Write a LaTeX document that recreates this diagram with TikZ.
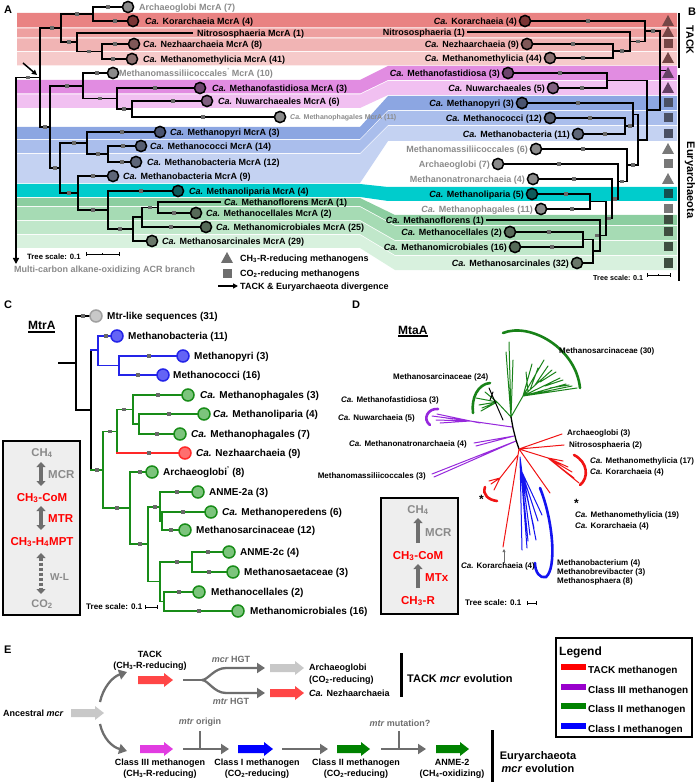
\documentclass[tikz,border=0pt]{standalone}
\usepackage{fontspec}
\setmainfont{Liberation Sans}
\usetikzlibrary{arrows.meta}
\definecolor{bK}{RGB}{233,130,130}
\definecolor{bN}{RGB}{238,160,160}
\definecolor{bZ}{RGB}{241,180,180}
\definecolor{bM}{RGB}{246,202,202}
\definecolor{bF}{RGB}{225,140,225}
\definecolor{bW}{RGB}{241,192,241}
\definecolor{bP}{RGB}{140,166,226}
\definecolor{bC}{RGB}{170,190,236}
\definecolor{bB}{RGB}{196,210,242}
\definecolor{bT}{RGB}{0,204,204}
\definecolor{bGa}{RGB}{140,206,160}
\definecolor{bGb}{RGB}{166,219,180}
\definecolor{bGc}{RGB}{192,231,202}
\definecolor{bGd}{RGB}{216,241,222}
\definecolor{lg}{RGB}{138,138,138}
\definecolor{sqc}{RGB}{105,105,105}
\definecolor{cGr}{RGB}{138,138,138}
\definecolor{cK}{RGB}{122,52,52}
\definecolor{cZ}{RGB}{128,88,88}
\definecolor{cM}{RGB}{138,110,110}
\definecolor{cF}{RGB}{110,68,110}
\definecolor{cW}{RGB}{128,96,128}
\definecolor{cP}{RGB}{74,84,112}
\definecolor{cC}{RGB}{86,94,114}
\definecolor{cB}{RGB}{94,102,120}
\definecolor{cT}{RGB}{14,90,90}
\definecolor{cG}{RGB}{86,106,88}
\definecolor{cS}{RGB}{106,120,106}
\definecolor{iK}{RGB}{118,70,70}
\definecolor{iF}{RGB}{100,64,100}
\definecolor{iP}{RGB}{74,80,100}
\definecolor{iG}{RGB}{120,120,120}
\definecolor{iT}{RGB}{20,80,80}
\definecolor{iE}{RGB}{62,78,64}
\definecolor{tblue}{RGB}{36,36,232}
\definecolor{tgreen}{RGB}{24,140,24}
\definecolor{tred}{RGB}{255,40,40}
\definecolor{fblue}{RGB}{100,100,245}
\definecolor{fgreen}{RGB}{124,196,124}
\definecolor{fred}{RGB}{255,110,110}
\definecolor{dgreen}{RGB}{24,130,24}
\definecolor{dpurp}{RGB}{150,40,220}
\definecolor{dred}{RGB}{240,20,20}
\definecolor{dblue}{RGB}{20,20,240}
\definecolor{boxg}{RGB}{238,238,238}
\definecolor{arrg}{RGB}{110,110,110}
\definecolor{lgray}{RGB}{200,200,200}
\definecolor{ered}{RGB}{255,70,70}
\definecolor{emag}{RGB}{225,60,225}
\definecolor{eblue}{RGB}{0,0,255}
\definecolor{egreen}{RGB}{0,130,0}
\definecolor{legpurp}{RGB}{153,0,204}
\newcommand{\Ca}{\textit{Ca.}}
\newcommand{\sbs}[1]{\textsubscript{#1}}
\newcommand{\bsq}[2]{\fill[sqc] ({#1-1.9},{#2-1.9}) rectangle ({#1+1.9},{#2+1.9});}
\newcommand{\tip}[3]{\draw[circ, fill=#3] (#1,#2) circle (5.6pt);}
\newcommand{\band}[7]{\fill[#7] (17,#1)--(#5,#1)--(#6,#3)--(677,#3)--(677,#4)--(#6,#4)--(#5,#2)--(17,#2)--cycle;}
\newcommand{\itri}[3]{\fill[#3] ({#1-6},{#2+5})--(#1,{#2-6})--({#1+6},{#2+5})--cycle;}
\newcommand{\isq}[3]{\fill[#3] ({#1-4.5},{#2-4.5}) rectangle ({#1+4.5},{#2+4.5});}
\newcommand{\blk}[4]{\fill[#4] (#1,{#3-4})--({#2-9},{#3-4})--({#2-9},{#3-7})--(#2,#3)--({#2-9},{#3+7})--({#2-9},{#3+4})--(#1,{#3+4})--cycle;}
\begin{document}
\begin{tikzpicture}[x=1pt,y=-1pt,
  tr/.style={line width=1.7pt, line cap=rect},
  circ/.style={line width=1.5pt, draw=black},
  lab/.style={anchor=base west, inner sep=0pt, yshift=-3.1pt, font=\fontsize{9}{10}\selectfont\bfseries},
  labr/.style={lab, anchor=base east},
  clab/.style={anchor=base west, inner sep=0pt, yshift=-3.5pt, font=\fontsize{10}{12}\selectfont\bfseries},
  dlab/.style={anchor=base west, inner sep=0pt, yshift=-2.8pt, font=\fontsize{8}{9}\selectfont\bfseries},
  dlabr/.style={dlab, anchor=base east},
  star/.style={anchor=base west, inner sep=0pt, font=\fontsize{12}{12}\selectfont\bfseries},
  elab/.style={anchor=base, inner sep=0pt, yshift=-3.1pt, font=\fontsize{9}{10}\selectfont\bfseries},
  plab/.style={anchor=base west, inner sep=0pt, yshift=-3.9pt, font=\fontsize{11}{12}\selectfont\bfseries},
  blab/.style={anchor=base, inner sep=0pt, yshift=-4pt, font=\fontsize{11.5}{13}\selectfont\bfseries},
  blabl/.style={blab, anchor=base west},
  ctr/.style={line width=1.7pt, line cap=rect},
  gcon/.style={line width=2.3pt, draw=arrg, -{Triangle[length=8pt,width=10pt]}},
  gline/.style={line width=2.3pt, draw=arrg},
  dbar/.style={line width=3.2pt, draw=arrg, {Triangle[length=5pt,width=9pt]}-{Triangle[length=5pt,width=9pt]}},
  ubar/.style={line width=3.2pt, draw=arrg, -{Triangle[length=5pt,width=9pt]}},
  dl/.style={line width=1pt}
]
\useasboundingbox (0,0) rectangle (700,783);

%================ PANEL A / B ================
\node[plab] (pA) at (4,10) {A};
\node[plab] (pB) at (688,12) {B};
\band{13}{27.5}{13}{27.5}{360}{388}{bK}
\band{28.5}{37.5}{28.5}{37.5}{360}{388}{bN}
\band{38.5}{51}{38.5}{51}{360}{388}{bZ}
\band{52}{65.5}{52}{65.5}{360}{388}{bM}
\band{80}{93.5}{66}{80}{360}{388}{bF}
\band{94.5}{108}{81}{95}{360}{388}{bW}
\band{127}{139}{96}{110}{360}{388}{bP}
\band{140}{153}{111}{125}{360}{388}{bC}
\band{154}{183}{126}{141}{360}{388}{bB}
\band{184}{197}{187}{201}{360}{388}{bT}
\band{198}{206}{215}{225}{360}{395}{bGa}
\band{207}{220}{226}{240}{360}{395}{bGb}
\band{221}{234}{241}{255}{360}{395}{bGc}
\band{235}{248}{256}{270}{360}{395}{bGd}

% left tree
\draw[tr] (128,7) -| (93,21) -- (133,21);
\draw[tr] (134,44) -| (102,59) -- (132,59);
\draw[tr] (192,33) -| (77,51.5) -- (102,51.5);
\draw[tr] (93,14) -| (61,42) -- (77,42);
\draw[tr] (61,28) -| (40,127) -- (50,127);
\draw[tr] (16,77.5) -- (40,77.5);
\draw[tr] (207,101) -| (132,117) -- (280,117);
\draw[tr] (200,88) -| (117,109) -- (132,109);
\draw[tr] (113,73) -| (83,98.5) -- (117,98.5);
\draw[tr] (141,146) -| (108,162) -- (136,162);
\draw[tr] (160,132) -| (87,154) -- (108,154);
\draw[tr] (220,202) -| (158,213) -- (196,213);
\draw[tr] (158,207.5) -| (142,227) -- (206,227);
\draw[tr] (142,217) -| (133,241) -- (152,241);
\draw[tr] (178,191) -| (108,229) -- (133,229);
\draw[tr] (113,176) -| (78,210) -- (108,210);
\draw[tr] (87,143) -| (60,193) -- (78,193);
\draw[tr] (83,86) -| (50,168) -- (60,168);
\draw[line width=1.8pt, -{Triangle[length=6pt,width=6pt]}] (16,77.5) -- (16,264);
\draw[line width=1.5pt, -{Triangle[length=5pt,width=5pt]}] (23,63) -- (37,75);
\bsq{108}{7}\bsq{115}{21}\bsq{77}{14}\bsq{115}{44}\bsq{113}{59}\bsq{89}{51.5}\bsq{69}{42}
\bsq{52}{28}\bsq{28}{77.5}\bsq{45}{127}\bsq{97}{73}\bsq{100}{98.5}\bsq{155}{88}\bsq{124}{109}
\bsq{173}{101}\bsq{203}{117}\bsq{67}{86}\bsq{122}{132}\bsq{74}{143}\bsq{98}{154}\bsq{123}{146}
\bsq{122}{162}\bsq{55}{168}\bsq{69}{193}\bsq{93}{176}\bsq{93}{210}\bsq{141}{191}\bsq{120}{229}
\bsq{171}{227}\bsq{174}{213}\bsq{150}{207.5}
\tip{128}{7}{cGr}\tip{133}{21}{cK}\tip{134}{44}{cZ}\tip{132}{59}{cM}\tip{113}{73}{cGr}
\tip{200}{88}{cF}\tip{207}{101}{cW}\tip{280}{117}{cGr}\tip{160}{132}{cP}\tip{141}{146}{cC}
\tip{136}{162}{cB}\tip{113}{176}{cB}\tip{178}{191}{cT}\tip{196}{213}{cG}\tip{206}{227}{cG}\tip{152}{241}{cS}
\node[lab, text=lg] (l1) at (139,7) {Archaeoglobi McrA (7)};
\node[lab] (l2) at (145,21) {\Ca{} Korarchaeia McrA (4)};
\node[lab] (l3) at (197,33) {Nitrososphaeria McrA (1)};
\node[lab] (l4) at (143,44) {\Ca{} Nezhaarchaeia McrA (8)};
\node[lab] (l5) at (143,59) {\Ca{} Methanomethylicia McrA (41)};
\node[lab, text=lg] (l6) at (119,73) {Methanomassiliicoccales\textsuperscript{'} McrA (10)};
\node[lab] (l7) at (212,88) {\Ca{} Methanofastidiosa McrA (3)};
\node[lab] (l8) at (218,101) {\Ca{} Nuwarchaeales McrA (6)};
\node[lab, text=lg, font=\fontsize{7}{8}\selectfont\bfseries, yshift=0.6pt] (l9) at (290,117) {\Ca{} Methanophagales McrA (11)};
\node[lab] (l10) at (170,132) {\Ca{} Methanopyri McrA (3)};
\node[lab] (l11) at (150,146) {\Ca{} Methanococci McrA (14)};
\node[lab] (l12) at (147,162) {\Ca{} Methanobacteria McrA (12)};
\node[lab] (l13) at (123,176) {\Ca{} Methanobacteria McrA (9)};
\node[lab] (l14) at (189,191) {\Ca{} Methanoliparia McrA (4)};
\node[lab] (l15) at (224,202) {\Ca{} Methanoflorens McrA (1)};
\node[lab] (l16) at (206,213) {\Ca{} Methanocellales McrA (2)};
\node[lab] (l17) at (216,227) {\Ca{} Methanomicrobiales McrA (25)};
\node[lab] (l18) at (162,241) {\Ca{} Methanosarcinales McrA (29)};

% right tree
\draw[tr] (525,21) -| (645,41.5) -- (630,41.5);
\draw[tr] (468,32) -| (630,51) -- (613,51);
\draw[tr] (527,44) -| (613,58) -- (550,58);
\draw[tr] (645,31) -| (660,110) -- (647,110);
\draw[tr] (660,70.5) -- (666,70.5);
\draw[tr] (508,73) -| (607,88) -- (553,88);
\draw[tr] (607,80.5) -| (647,140) -- (638,140);
\draw[tr] (550,118) -| (625,134) -- (578,134);
\draw[tr] (522,103) -| (633,126) -- (625,126);
\draw[tr] (633,114.5) -| (638,165) -- (627,165);
\draw[tr] (536,149) -| (627,181.5) -- (618,181.5);
\draw[tr] (498,164) -| (618,199) -- (612,199);
\draw[tr] (533,179) -| (612,218.5) -- (606,218.5);
\draw[tr] (590,201.5) -| (606,235.5) -- (600,235.5);
\draw[tr] (532,194) -| (590,209) -- (541,209);
\draw[tr] (487,220) -| (600,251) -- (593,251);
\draw[tr] (583,239.5) -| (593,263) -- (577,263);
\draw[tr] (510,232) -| (583,247) -- (515,247);
\bsq{588}{21}\bsq{573}{44}\bsq{583}{58}\bsq{622}{51}\bsq{638}{41.5}\bsq{653}{31}
\bsq{560}{73}\bsq{582}{88}\bsq{578}{103}\bsq{590}{118}\bsq{605}{134}\bsq{630}{126}
\bsq{583}{149}\bsq{559}{164}\bsq{574}{179}\bsq{566}{194}\bsq{572}{209}\bsq{633}{165}
\bsq{622}{181.5}\bsq{609}{218.5}\bsq{549}{232}\bsq{552}{247}\bsq{615}{199}\bsq{597}{235.5}
\tip{525}{21}{cK}\tip{527}{44}{cZ}\tip{550}{58}{cM}\tip{508}{73}{cF}\tip{553}{88}{cW}
\tip{522}{103}{cP}\tip{550}{118}{cC}\tip{578}{134}{cB}\tip{536}{149}{cGr}\tip{498}{164}{cGr}
\tip{533}{179}{cGr}\tip{532}{194}{cT}\tip{541}{209}{cGr}\tip{510}{232}{cG}\tip{515}{247}{cG}\tip{577}{263}{cS}
\node[labr] (r1) at (517,21) {\Ca{} Korarchaeia (4)};
\node[labr] (r2) at (465,32) {Nitrososphaeria (1)};
\node[labr] (r3) at (519,44) {\Ca{} Nezhaarchaeia (9)};
\node[labr] (r4) at (542,58) {\Ca{} Methanomethylicia (44)};
\node[labr] (r5) at (500,73) {\Ca{} Methanofastidiosa (3)};
\node[labr] (r6) at (545,88) {\Ca{} Nuwarchaeales (5)};
\node[labr] (r7) at (514,103) {\Ca{} Methanopyri (3)};
\node[labr] (r8) at (542,118) {\Ca{} Methanococci (12)};
\node[labr] (r9) at (570,134) {\Ca{} Methanobacteria (11)};
\node[labr, text=lg] (r10) at (528,149) {Methanomassiliicoccales (6)};
\node[labr, text=lg] (r11) at (490,164) {Archaeoglobi (7)};
\node[labr, text=lg] (r12) at (525,179) {Methanonatronarchaeia (4)};
\node[labr] (r13) at (524,194) {\Ca{} Methanoliparia (5)};
\node[labr, text=lg] (r14) at (533,209) {\Ca{} Methanophagales (11)};
\node[labr] (r15) at (484,220) {\Ca{} Methanoflorens (1)};
\node[labr] (r16) at (502,232) {\Ca{} Methanocellales (2)};
\node[labr] (r17) at (507,247) {\Ca{} Methanomicrobiales (16)};
\node[labr] (r18) at (569,263) {\Ca{} Methanosarcinales (32)};
\itri{668}{21}{iK}\itri{668}{32}{iK}\isq{668}{44}{iK}\itri{668}{58}{iK}
\itri{668}{73}{iF}\itri{668}{88}{iF}\isq{668}{103}{iP}\isq{668}{118}{iP}\isq{668}{134}{iP}
\itri{668}{149}{iG}\isq{668}{164}{iG}\itri{668}{179}{iG}\isq{668}{194}{iT}\isq{668}{209}{iG}
\isq{668}{220}{iE}\isq{668}{232}{iE}\isq{668}{247}{iE}\isq{668}{263}{iE}
\draw[line width=2pt] (679,13) -- (679,68);
\draw[line width=2pt] (679,75) -- (679,281);
\node[rotate=-90, inner sep=0pt, font=\fontsize{10.5}{12}\selectfont\bfseries] (tack) at (690,40) {TACK};
\node[rotate=-90, inner sep=0pt, font=\fontsize{11}{12}\selectfont\bfseries] (eury) at (690,180) {Euryarchaeota};
\node[lab, font=\fontsize{7.7}{9}\selectfont\bfseries, yshift=-2.7pt] (ts1) at (27,254) {Tree scale: 0.1};
\draw[line width=0.6pt] (86,254) -- (119,254) (86,252) -- (86,256) (119,252) -- (119,256) (102.5,253) -- (102.5,255);
\node[lab, font=\fontsize{7.2}{9}\selectfont\bfseries, yshift=-2.6pt] (ts2) at (593,275) {Tree scale: 0.1};
\draw[line width=0.6pt] (647,275) -- (670,275) (647,273) -- (647,277) (670,273) -- (670,277) (658.5,274) -- (658.5,276);
\node[lab, text=lg] (acr) at (14,269) {Multi-carbon alkane-oxidizing ACR branch};
\itri{227}{258}{arrg}
\isq{227}{273}{arrg}
\node[lab] (lg1) at (240,258) {CH\sbs{3}-R-reducing methanogens};
\node[lab] (lg2) at (240,273) {CO\sbs{2}-reducing methanogens};
\coordinate (la1) at (218,286);
\coordinate (la2) at (238,286);
\draw[line width=1.5pt, -{Triangle[length=5pt,width=5pt]}] (la1) -- (la2);
\node[lab] (lg3) at (240,286) {TACK \& Euryarchaeota divergence};

%================ PANEL C ================
\node[plab] (pC) at (4,305) {C};
\node[clab, font=\fontsize{12}{14}\selectfont\bfseries, yshift=-4.2pt] (mtra) at (28,322) {MtrA};
\draw[line width=1.2pt] (28,332) -- (55,332);
\draw[ctr] (59,363) -- (76,363);
\draw[ctr] (96,316) -| (76,410) -- (91,410);
\draw[ctr] (91,350) -- (91,470);
\draw[ctr, tblue] (91,350) -- (98,350);
\draw[ctr, tblue] (117,336) -| (98,365.5) -- (119,365.5);
\draw[ctr, tblue] (183,356) -| (119,375) -- (163,375);
\draw[ctr, tgreen] (91,470) -- (103,470);
\draw[ctr, tgreen] (117,431.5) -| (103,508) -- (130,508);
\draw[ctr, tgreen] (133,409.5) -| (117,453);
\draw[ctr, tred] (117,453) -- (185,453);
\draw[ctr, tgreen] (188,395) -| (133,424) -- (139,424);
\draw[ctr, tgreen] (204,414) -| (139,434) -- (180,434);
\draw[ctr, tgreen] (152,472) -| (130,544) -- (148,544);
\draw[ctr, tgreen] (160,507) -| (148,581.5) -- (160,581.5);
\draw[ctr, tgreen] (198,492) -| (160,521) -- (162,521);
\draw[ctr, tgreen] (211,512) -| (162,530) -- (185,530);
\draw[ctr, tgreen] (192,562) -| (160,601.5) -- (164,601.5);
\draw[ctr, tgreen] (229,552) -| (192,572) -- (233,572);
\draw[ctr, tgreen] (199,592) -| (164,611) -- (238,611);
\bsq{83}{316}\bsq{106}{336}\bsq{149}{356}\bsq{138}{375}\bsq{97}{470}\bsq{110}{431.5}\bsq{124}{409.5}
\bsq{158}{395}\bsq{169}{414}\bsq{157}{434}\bsq{149}{453}\bsq{117}{508}\bsq{140}{472}\bsq{140}{544}
\bsq{155}{507}\bsq{177}{492}\bsq{183}{512}\bsq{171}{530}\bsq{177}{562}\bsq{208}{552}\bsq{209}{572}
\bsq{179}{592}\bsq{199}{611}
\draw[line width=1.5pt, draw=lgray!80!black, fill=lgray] (96,316) circle (6pt);
\foreach \px/\py in {117/336,183/356,163/375}
  \draw[line width=1.5pt, draw=tblue, fill=fblue] (\px,\py) circle (6pt);
\foreach \px/\py in {188/395,204/414,180/434,152/472,198/492,211/512,185/530,229/552,233/572,199/592,238/611}
  \draw[line width=1.5pt, draw=tgreen, fill=fgreen] (\px,\py) circle (6pt);
\draw[line width=1.5pt, draw=tred, fill=fred] (185,453) circle (6pt);
\node[clab] (c1) at (107,316) {Mtr-like sequences (31)};
\node[clab] (c2) at (128,336) {Methanobacteria (11)};
\node[clab] (c3) at (194,356) {Methanopyri (3)};
\node[clab] (c4) at (173,375) {Methanococci (16)};
\node[clab] (c5) at (200,395) {\Ca{} Methanophagales (3)};
\node[clab] (c6) at (213,414) {\Ca{} Methanoliparia (4)};
\node[clab] (c7) at (191,434) {\Ca{} Methanophagales (7)};
\node[clab] (c8) at (196,453) {\Ca{} Nezhaarchaeia (9)};
\node[clab] (c9) at (163,472) {Archaeoglobi\textsuperscript{'} (8)};
\node[clab] (c10) at (209,492) {ANME-2a (3)};
\node[clab] (c11) at (222,512) {\Ca{} Methanoperedens (6)};
\node[clab] (c12) at (196,530) {Methanosarcinaceae (12)};
\node[clab] (c13) at (240,552) {ANME-2c (4)};
\node[clab] (c14) at (244,572) {Methanosaetaceae (3)};
\node[clab] (c15) at (211,592) {Methanocellales (2)};
\node[clab] (c16) at (250,611) {Methanomicrobiales (16)};
\node[dlab, font=\fontsize{8.1}{9}\selectfont\bfseries] (ts3) at (86,607) {Tree scale: 0.1};
\draw[line width=0.6pt] (145,607) -- (157,607) (145,605) -- (145,609) (157,605) -- (157,609);
\draw[line width=1.5pt, fill=boxg] (3,441) rectangle (80,615);
\node[blab, text=lg, font=\fontsize{11.3}{13}\selectfont\bfseries] (cb1) at (42,452) {CH\sbs{4}};
\draw[dbar] (41,462) -- (41,486);
\node[blabl, text=lg] (cb2) at (48,474) {MCR};
\node[blab, text=red] (cb3) at (42,497) {CH\sbs{3}-CoM};
\draw[dbar] (41,506) -- (41,530);
\node[blabl, text=red] (cb4) at (48,518) {MTR};
\node[blab, text=red] (cb5) at (42,541) {CH\sbs{3}-H\sbs{4}MPT};
\draw[dbar, dash pattern=on 3pt off 2pt] (41,553) -- (41,594);
\node[blabl, text=lg, font=\fontsize{10}{12}\selectfont\bfseries, yshift=-3.5pt] (cb6) at (50,573) {W-L};
\node[blab, text=lg, font=\fontsize{11}{13}\selectfont\bfseries] (cb7) at (42,603) {CO\sbs{2}};

%================ PANEL D ================
\node[plab] (pD) at (352,305) {D};
\node[clab, font=\fontsize{12}{14}\selectfont\bfseries, yshift=-4.2pt] (mtaa) at (398,327) {MtaA};
\draw[line width=1.2pt] (398,336) -- (428,336);
\begin{scope}[line cap=round]
\draw[dl, dgreen] (511,417)--(509,342) (511,417)--(506,352) (511,417)--(513,360) (511,417)--(507,365)
  (511,417)--(523,396) (523,396)--(544,360) (523,396)--(532,364) (523,396)--(552,370)
  (523,396)--(560,378) (523,396)--(566,384) (523,396)--(572,386) (523,396)--(577,388)
  (535,385)--(548,366) (530,390)--(538,368) (540,382)--(556,372) (545,386)--(563,380)
  (550,388)--(569,385) (528,392)--(526,372)
  (511,417)--(497,402) (497,402)--(485,392) (497,402)--(479,405) (497,402)--(481,411) (497,402)--(476,398)
  (492,404)--(482,408);
\draw[dl, black] (489,388)--(503,420) (493,392)--(490,400);
\draw[line width=2.6pt, dgreen] (503,333) .. controls (530,322) and (576,348) .. (580,388);
\draw[line width=2.6pt, dgreen] (490,383) .. controls (478,384) and (471,398) .. (473,413);
\draw[dl, dpurp] (512,427)--(470,421) (470,421)--(432,416) (470,421)--(436,420) (470,421)--(440,423)
  (470,421)--(446,418) (480,423)--(437,414)
  (514,436)--(474,443) (514,436)--(476,446) (516,441)--(432,474) (516,441)--(434,477);
\draw[line width=2.6pt, dpurp] (438,409) .. controls (428,408) and (422,419) .. (430,425);
\draw[line width=1.3pt, black] (511,417)--(513,428)--(516,440)--(519,449);
\draw[dl, dred] (519,449)--(562,434) (519,449)--(564,445) (519,449)--(548,458) (548,458)--(563,461)
  (548,458)--(568,467) (548,458)--(572,472) (548,458)--(579,483) (548,458)--(574,478)
  (519,449)--(550,493) (519,449)--(503,547) (518,455)--(500,478) (500,478)--(491,484)
  (500,478)--(494,490) (500,478)--(489,481);
\draw[line width=2.6pt, dred] (574,455) .. controls (588,462) and (589,478) .. (580,485);
\draw[line width=2.6pt, dred] (485,487) .. controls (482,495) and (489,500) .. (497,501);
\draw[dl, dblue] (520,457)--(522,550) (520,457)--(527,548) (520,457)--(530,535) (521,470)--(534,528)
  (521,470)--(538,521) (521,470)--(542,515) (521,470)--(528,541) (524,480)--(536,540);
\draw[line width=2.6pt, dblue] (540,488) .. controls (553,520) and (557,568) .. (546,577) .. controls (540,579) and (535,572) .. (535,563);
\end{scope}
\coordinate (ka1) at (504,563);
\coordinate (ka2) at (504,549);
\draw[line width=0.8pt, draw=arrg, -{Triangle[length=3pt,width=3pt]}] (ka1) -- (ka2);
\node[dlab] (d1) at (559,351) {Methanosarcinaceae (30)};
\node[dlab] (d2) at (393,377) {Methanosarcinaceae (24)};
\node[dlabr] (d3) at (439,400) {\Ca{} Methanofastidiosa (3)};
\node[dlabr] (d4) at (415,418) {\Ca{} Nuwarchaeia (5)};
\node[dlabr] (d5) at (467,444) {\Ca{} Methanonatronarchaeia (4)};
\node[dlabr] (d6) at (426,476) {Methanomassiliicoccales (3)};
\node[dlab] (d7) at (567,433) {Archaeoglobi (3)};
\node[dlab] (d8) at (569,445) {Nitrososphaeria (2)};
\node[dlab] (d9) at (590,461) {\Ca{} Methanomethylicia (17)};
\node[dlab] (d10) at (590,472) {\Ca{} Korarchaeia (4)};
\node[star] (d11) at (574,507) {*};
\node[dlab] (d12) at (575,515) {\Ca{} Methanomethylicia (19)};
\node[dlab] (d13) at (575,526) {\Ca{} Korarchaeia (4)};
\node[star] (d14) at (479,503) {*};
\node[dlab] (d15) at (461,566) {\Ca{} Korarchaeia (4)};
\node[dlab] (d16) at (557,563) {Methanobacterium (4)};
\node[dlab] (d17) at (557,572) {Methanobrevibacter (3)};
\node[dlab] (d18) at (557,581) {Methanosphaera (8)};
\node[dlab, font=\fontsize{8.1}{9}\selectfont\bfseries] (ts4) at (465,603) {Tree scale: 0.1};
\draw[line width=0.6pt] (527,603) -- (536,603) (527,601) -- (527,605) (536,601) -- (536,605);
\draw[line width=1.5pt, fill=boxg] (381,498) rectangle (458,614);
\node[blab, text=lg, font=\fontsize{11.3}{13}\selectfont\bfseries] (db1) at (418,509) {CH\sbs{4}};
\draw[ubar] (418,543) -- (418,518);
\node[blabl, text=lg] (db2) at (425,532) {MCR};
\node[blab, text=red] (db3) at (418,555) {CH\sbs{3}-CoM};
\draw[ubar] (418,588) -- (418,564);
\node[blabl, text=red] (db4) at (425,577) {MTx};
\node[blab, text=red] (db5) at (418,600) {CH\sbs{3}-R};

%================ PANEL E ================
\node[plab] (pE) at (4,650) {E};
\node[lab] (anc) at (3,713) {Ancestral \textit{mcr}};
\blk{71}{104}{713}{lgray}
\draw[gcon] (100,702) .. controls (103,688) and (112,677) .. (127,672);
\draw[gcon] (100,724) .. controls (103,738) and (112,747) .. (127,751);
\node[elab] (tack1) at (150,654) {TACK};
\node[elab] (tack2) at (150,665) {(CH\sbs{3}-R-reducing)};
\blk{138}{173}{680}{ered}
\coordinate (fk0) at (183,680);
\coordinate (fk1) at (202,680);
\draw[gline] (fk0) -- (fk1);
\draw[gcon] (fk1) .. controls (208,680) and (214,668) .. (226,668) -- (265,668);
\draw[gcon] (fk1) .. controls (208,680) and (214,693) .. (226,693) -- (265,693);
\node[elab, text=arrg] (hgt1) at (231,659) {\textit{mcr} HGT};
\node[elab, text=arrg] (hgt2) at (231,701) {\textit{mtr} HGT};
\blk{270}{304}{668}{lgray}
\blk{270}{304}{693}{ered}
\node[lab] (ar1) at (309,667) {Archaeoglobi};
\node[lab] (ar2) at (309,679) {(CO\sbs{2}-reducing)};
\node[lab] (nz) at (309,693) {\Ca{} Nezhaarchaeia};
\draw[line width=3pt] (401,653) -- (401,697);
\node[lab, font=\fontsize{11}{13}\selectfont\bfseries, yshift=-3.8pt] (te) at (407,676) {TACK \textit{mcr} evolution};
\blk{140}{173}{749}{emag}
\coordinate (o1) at (183,749);
\coordinate (o2) at (229,749);
\coordinate (o3) at (200,731);
\coordinate (o4) at (200,749);
\draw[gcon] (o1) -- (o2);
\draw[gline] (o3) -- (o4);
\node[elab, text=arrg] (mo) at (200,721) {\textit{mtr} origin};
\blk{238}{273}{749}{eblue}
\coordinate (o5) at (282,749);
\coordinate (o6) at (328,749);
\draw[gcon] (o5) -- (o6);
\blk{337}{370}{749}{egreen}
\coordinate (o7) at (381,749);
\coordinate (o8) at (426,749);
\coordinate (o9) at (399,731);
\coordinate (o10) at (399,749);
\draw[gcon] (o7) -- (o8);
\draw[gline] (o9) -- (o10);
\node[elab, text=arrg] (mm) at (400,723) {\textit{mtr} mutation?};
\blk{436}{469}{749}{egreen}
\node[elab] (k1) at (160,762) {Class III methanogen};
\node[elab] (k2) at (160,773) {(CH\sbs{3}-R-reducing)};
\node[elab] (k3) at (257,762) {Class I methanogen};
\node[elab] (k4) at (257,773) {(CO\sbs{2}-reducing)};
\node[elab] (k5) at (356,762) {Class II methanogen};
\node[elab] (k6) at (356,773) {(CO\sbs{2}-reducing)};
\node[elab] (k7) at (452,762) {ANME-2};
\node[elab] (k8) at (452,773) {(CH\sbs{4}-oxidizing)};
\draw[line width=3pt] (492,730) -- (492,782);
\node[elab, font=\fontsize{11}{13}\selectfont\bfseries, yshift=-3.8pt] (ee1) at (538,753) {Euryarchaeota};
\node[elab, font=\fontsize{11}{13}\selectfont\bfseries, yshift=-3.8pt] (ee2) at (538,766) {\textit{mcr} evolution};
\draw[line width=1.5pt] (556,638) rectangle (692,737);
\node[lab, font=\fontsize{12}{14}\selectfont\bfseries, yshift=-4.2pt] (leg) at (559,648) {Legend};
\fill[red] (561,664) rectangle (586,670);
\fill[legpurp] (561,684) rectangle (586,690);
\fill[egreen] (561,703) rectangle (586,709);
\fill[eblue] (561,723) rectangle (586,729);
\node[lab, font=\fontsize{10}{12}\selectfont\bfseries, yshift=-3.5pt] (le1) at (588,667) {TACK methanogen};
\node[lab, font=\fontsize{10}{12}\selectfont\bfseries, yshift=-3.5pt] (le2) at (588,687) {Class III methanogen};
\node[lab, font=\fontsize{10}{12}\selectfont\bfseries, yshift=-3.5pt] (le3) at (588,706) {Class II methanogen};
\node[lab, font=\fontsize{10}{12}\selectfont\bfseries, yshift=-3.5pt] (le4) at (588,726) {Class I methanogen};
\end{tikzpicture}
\end{document}
